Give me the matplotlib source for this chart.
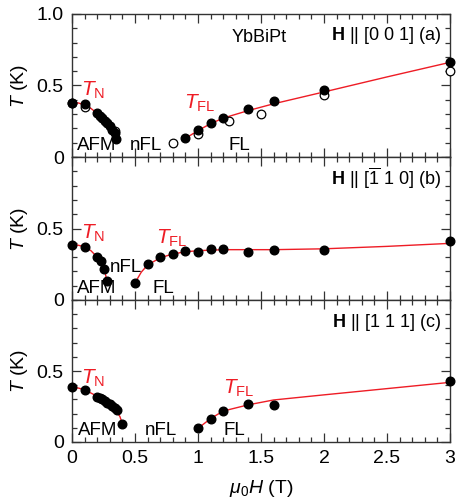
import matplotlib
matplotlib.use("Agg")
import matplotlib.pyplot as plt
from matplotlib.ticker import MultipleLocator, FixedLocator, FixedFormatter

plt.rcParams['font.family'] = ['Liberation Sans', 'DejaVu Sans']
plt.rcParams['mathtext.fontset'] = 'custom'
plt.rcParams['mathtext.rm'] = 'Liberation Sans'
plt.rcParams['mathtext.it'] = 'Liberation Sans:italic'
plt.rcParams['mathtext.bf'] = 'Liberation Sans:bold'
plt.rcParams['font.size'] = 11

# ---------------- data ----------------
# (a) H || [001]
a_H_fill = [0.0, 0.10, 0.20, 0.22, 0.24, 0.26, 0.28, 0.30, 0.32, 0.34, 0.35,
            0.90, 1.0, 1.1, 1.2, 1.4, 1.6, 2.0, 3.0]
a_T_fill = [0.38, 0.37, 0.305, 0.29, 0.275, 0.255, 0.235, 0.215, 0.19, 0.165, 0.124,
            0.13, 0.19, 0.235, 0.27, 0.334, 0.39, 0.468, 0.662]
a_H_open = [0.0, 0.10, 0.34, 0.80, 1.0, 1.25, 1.5, 2.0, 3.0]
a_T_open = [0.375, 0.35, 0.18, 0.10, 0.16, 0.255, 0.30, 0.436, 0.60]
a_TN_H = [0.0, 0.05, 0.10, 0.15, 0.20, 0.25, 0.30, 0.33, 0.35]
a_TN_T = [0.38, 0.378, 0.365, 0.34, 0.305, 0.26, 0.21, 0.17, 0.125]
a_TFL_H = [0.90, 1.0, 1.1, 1.2, 1.4, 1.6, 2.0, 2.5, 3.0]
a_TFL_T = [0.13, 0.185, 0.233, 0.272, 0.325, 0.372, 0.455, 0.56, 0.662]

# (b) H || [-1 1 0]
b_H = [0.0, 0.10, 0.20, 0.23, 0.25, 0.275, 0.50, 0.60, 0.70, 0.80, 0.90, 1.0, 1.1, 1.2,
       1.4, 1.6, 2.0, 3.0]
b_T = [0.385, 0.373, 0.30, 0.275, 0.22, 0.135, 0.12, 0.25, 0.30, 0.32, 0.345, 0.338, 0.354,
       0.357, 0.333, 0.35, 0.347, 0.41]
b_TN_H = [0.0, 0.05, 0.10, 0.15, 0.20, 0.23, 0.25, 0.265, 0.275]
b_TN_T = [0.385, 0.383, 0.372, 0.345, 0.30, 0.265, 0.225, 0.185, 0.135]
b_TFL_H = [0.50, 0.55, 0.60, 0.70, 0.80, 0.90, 1.0, 1.2, 1.6, 2.0, 2.5, 3.0]
b_TFL_T = [0.12, 0.195, 0.245, 0.295, 0.322, 0.337, 0.345, 0.352, 0.352, 0.358, 0.375, 0.396]

# (c) H || [1 1 1]
c_H = [0.0, 0.10, 0.20, 0.22, 0.24, 0.26, 0.28, 0.30, 0.32, 0.34, 0.355, 0.40,
       1.0, 1.1, 1.2, 1.4, 1.6, 3.0]
c_T = [0.385, 0.366, 0.32, 0.31, 0.30, 0.29, 0.278, 0.265, 0.252, 0.238, 0.222, 0.127,
       0.096, 0.164, 0.22, 0.265, 0.26, 0.43]
c_TN_H = [0.0, 0.05, 0.10, 0.20, 0.30, 0.35, 0.38, 0.40]
c_TN_T = [0.385, 0.38, 0.368, 0.322, 0.262, 0.22, 0.18, 0.127]
c_TFL_H = [1.0, 1.1, 1.2, 1.4, 1.6, 2.0, 2.5, 3.0]
c_TFL_T = [0.096, 0.165, 0.218, 0.262, 0.296, 0.332, 0.376, 0.42]

x_ticks = [0, 0.5, 1, 1.5, 2, 2.5, 3]
x_ticklabels = ['0', '0.5', '1', '1.5', '2', '2.5', '3']
y_ticks_top = [0, 0.5, 1.0]
y_ticklabels_top = ['0', '0.5', '1.0']
y_ticks = [0, 0.5]
y_ticklabels = ['0', '0.5']

# ---------------- figure ----------------
W, H = 464, 503
fig = plt.figure(figsize=(W / 100, H / 100), dpi=100)
left, right = 72 / W, 450 / W
tops = [14, 157, 300]
hts = [143, 143, 142]
axes = []
for t, h in zip(tops, hts):
    ax = fig.add_axes([left, 1 - (t + h) / H, right - left, h / H])
    axes.append(ax)

red = '#ee1c25'
spc = '#333333'
lab = 13.5
tfs = 13
for i, ax in enumerate(axes):
    ax.set_xlim(0, 3)
    ax.set_ylim(0, 1.0)
    ax.xaxis.set_major_locator(FixedLocator(x_ticks))
    ax.xaxis.set_minor_locator(MultipleLocator(0.1))
    if i == 0:
        ax.yaxis.set_major_locator(FixedLocator(y_ticks_top))
        ax.yaxis.set_major_formatter(FixedFormatter(y_ticklabels_top))
    else:
        ax.yaxis.set_major_locator(FixedLocator(y_ticks))
        ax.yaxis.set_major_formatter(FixedFormatter(y_ticklabels))
    ax.yaxis.set_minor_locator(MultipleLocator(0.1))
    ax.tick_params(which='both', direction='in', top=True, right=True,
                   color=spc, width=0.9, labelsize=14, pad=6)
    ax.tick_params(which='major', length=6.5)
    ax.tick_params(which='minor', length=3.5)
    for s in ax.spines.values():
        s.set_color(spc)
        s.set_linewidth(1.0)
    if i < 2:
        ax.tick_params(labelbottom=False)
    else:
        ax.xaxis.set_major_formatter(FixedFormatter(x_ticklabels))
    ax.set_ylabel(r'$T$ (K)', fontsize=14, labelpad=5)

msz = 6.2
# panel a
ax = axes[0]
ax.plot(a_TN_H, a_TN_T, color=red, lw=1.0, zorder=2)
ax.plot(a_TFL_H, a_TFL_T, color=red, lw=1.0, zorder=2)
ax.plot(a_H_open, a_T_open, 'o', mfc='white', mec='black', mew=0.9, ms=msz, zorder=3, clip_on=False)
ax.plot(a_H_fill, a_T_fill, 'o', color='black', ms=msz, zorder=4, clip_on=False)
ax.text(0.07, 0.39, r'$T_\mathrm{N}$', color=red, fontsize=15, va='bottom')
ax.text(0.89, 0.30, r'$T_\mathrm{FL}$', color=red, fontsize=15, va='bottom')
ax.text(0.04, 0.02, 'AFM', fontsize=lab, va='bottom')
ax.text(0.46, 0.02, 'nFL', fontsize=lab, va='bottom')
ax.text(1.24, 0.02, 'FL', fontsize=lab, va='bottom')
ax.text(1.27, 0.775, 'YbBiPt', fontsize=tfs, va='bottom')
ax.text(2.93, 0.775, r'$\mathbf{H}$ || [0 0 1] (a)', fontsize=tfs, va='bottom', ha='right')

# panel b
ax = axes[1]
ax.plot(b_TN_H, b_TN_T, color=red, lw=1.0, zorder=2)
ax.plot(b_TFL_H, b_TFL_T, color=red, lw=1.0, zorder=2)
ax.plot(b_H, b_T, 'o', color='black', ms=msz, zorder=4, clip_on=False)
ax.text(0.07, 0.39, r'$T_\mathrm{N}$', color=red, fontsize=15, va='bottom')
ax.text(0.67, 0.36, r'$T_\mathrm{FL}$', color=red, fontsize=15, va='bottom')
ax.text(0.04, 0.02, 'AFM', fontsize=lab, va='bottom')
ax.text(0.30, 0.17, 'nFL', fontsize=lab, va='bottom')
ax.text(0.64, 0.02, 'FL', fontsize=lab, va='bottom')
ax.text(2.93, 0.765, r'$\mathbf{H}$ || [$\overline{1}$ 1 0] (b)', fontsize=tfs, va='bottom', ha='right')

# panel c
ax = axes[2]
ax.plot(c_TN_H, c_TN_T, color=red, lw=1.0, zorder=2)
ax.plot(c_TFL_H, c_TFL_T, color=red, lw=1.0, zorder=2)
ax.plot(c_H, c_T, 'o', color='black', ms=msz, zorder=4, clip_on=False)
ax.text(0.07, 0.37, r'$T_\mathrm{N}$', color=red, fontsize=15, va='bottom')
ax.text(1.2, 0.30, r'$T_\mathrm{FL}$', color=red, fontsize=15, va='bottom')
ax.text(0.05, 0.02, 'AFM', fontsize=lab, va='bottom')
ax.text(0.58, 0.02, 'nFL', fontsize=lab, va='bottom')
ax.text(1.2, 0.02, 'FL', fontsize=lab, va='bottom')
ax.text(2.93, 0.765, r'$\mathbf{H}$ || [1 1 1] (c)', fontsize=tfs, va='bottom', ha='right')
ax.set_xlabel(r'$\mu_0 H$ (T)', fontsize=14, labelpad=8)

fig.savefig('out.png', dpi=100)
